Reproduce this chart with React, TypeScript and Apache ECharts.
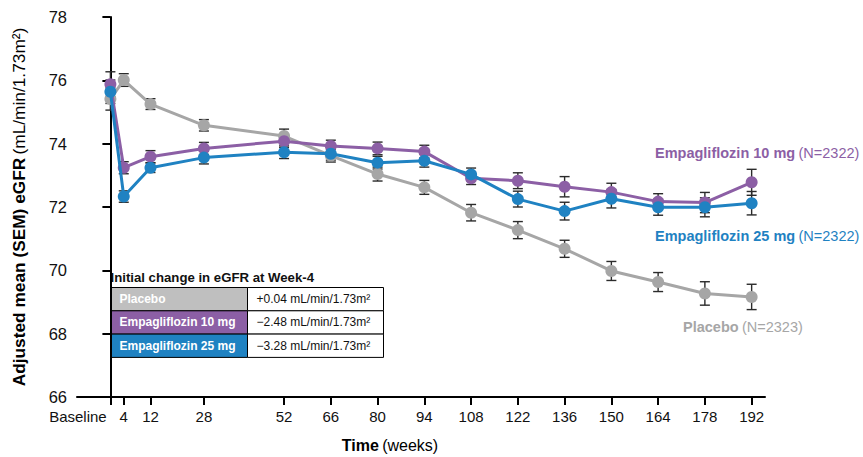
import React, { useEffect, useRef } from "react";
import * as echarts from "echarts";

const weeks = [0, 4, 12, 28, 52, 66, 80, 94, 108, 122, 136, 150, 164, 178, 192];
const tickLabels = ["Baseline", "4", "12", "28", "52", "66", "80", "94", "108", "122", "136", "150", "164", "178", "192"];

const placeboMean = [75.41, 76.01, 75.25, 74.58, 74.24, 73.62, 73.04, 72.62, 71.82, 71.27, 70.68, 69.98, 69.63, 69.27, 69.16];
const placeboSem = [0.35, 0.2, 0.17, 0.18, 0.22, 0.2, 0.22, 0.22, 0.26, 0.27, 0.27, 0.3, 0.3, 0.37, 0.4];
const emp10Mean = [75.88, 73.24, 73.59, 73.85, 74.08, 73.93, 73.85, 73.75, 72.91, 72.83, 72.64, 72.47, 72.17, 72.14, 72.78];
const emp10Sem = [0.39, 0.19, 0.19, 0.19, 0.2, 0.18, 0.2, 0.2, 0.2, 0.25, 0.32, 0.28, 0.25, 0.32, 0.41];
const emp25Mean = [75.64, 72.33, 73.24, 73.56, 73.73, 73.68, 73.4, 73.46, 73.03, 72.25, 71.87, 72.26, 71.99, 71.99, 72.12];
const emp25Sem = [0.37, 0.18, 0.15, 0.2, 0.2, 0.2, 0.2, 0.2, 0.2, 0.25, 0.28, 0.29, 0.25, 0.3, 0.37];

const seriesNames = ["Placebo", "Empagliflozin 10 mg", "Empagliflozin 25 mg"];
const seriesN = ["(N=2323)", "(N=2322)", "(N=2322)"];
const tableTitle = "Initial change in eGFR at Week-4";
const tableValues = ["+0.04 mL/min/1.73m²", "\u22122.48 mL/min/1.73m²", "\u22123.28 mL/min/1.73m²"];

const COLORS = ["#a6a6a6", "#8c5fa5", "#1f82c2"];
const TABLE_COLORS = ["#bfbfbf", "#8c5fa5", "#1f82c2"];
const FONT = "Liberation Sans, Arial, sans-serif";

export default function App() {
  const ref = useRef<HTMLDivElement>(null);

  useEffect(() => {
    if (!ref.current) return;
    const chart = echarts.init(ref.current, undefined, { renderer: "svg" });

    const means = [placeboMean, emp10Mean, emp25Mean];
    const sems = [placeboSem, emp10Sem, emp25Sem];

    const errorSeries = means.map((m, i) => ({
      type: "custom",
      name: seriesNames[i] + " SEM",
      z: 1,
      silent: true,
      encode: { x: 0, y: 1 },
      data: weeks.map((w, j) => [w, m[j], sems[i][j]]),
      renderItem: (params: any, api: any) => {
        const x = api.value(0);
        const y = api.value(1);
        const s = api.value(2);
        const top = api.coord([x, y + s]);
        const bot = api.coord([x, y - s]);
        const hw = 5;
        const st = { stroke: "#2b2b2b", lineWidth: 1.4 };
        return {
          type: "group",
          children: [
            { type: "line", shape: { x1: top[0], y1: top[1], x2: bot[0], y2: bot[1] }, style: st },
            { type: "line", shape: { x1: top[0] - hw, y1: top[1], x2: top[0] + hw, y2: top[1] }, style: st },
            { type: "line", shape: { x1: bot[0] - hw, y1: bot[1], x2: bot[0] + hw, y2: bot[1] }, style: st },
          ],
        };
      },
    }));

    const lineSeries = means.map((m, i) => ({
      type: "line",
      name: seriesNames[i],
      z: 2 + i,
      data: weeks.map((w, j) => [w, m[j]]),
      symbol: "circle",
      symbolSize: 12,
      lineStyle: { color: COLORS[i], width: 3 },
      itemStyle: { color: COLORS[i] },
    }));

    // Table graphics
    const tx = 110.5;
    const tDiv = 247.5;
    const tRight = 383.5;
    const rowTop = 287.5;
    const rowH = 23.3;
    const tableEls: any[] = [];
    tableEls.push({
      type: "text",
      x: tx,
      y: 277,
      style: { text: tableTitle, font: `bold 13.2px ${FONT}`, fill: "#111", verticalAlign: "middle" },
    });
    seriesNames.forEach((name, i) => {
      const y0 = rowTop + i * rowH;
      tableEls.push({
        type: "rect",
        shape: { x: tx, y: y0, width: tDiv - tx, height: rowH },
        style: { fill: TABLE_COLORS[i], stroke: "#000", lineWidth: 1 },
      });
      tableEls.push({
        type: "rect",
        shape: { x: tDiv, y: y0, width: tRight - tDiv, height: rowH },
        style: { fill: "#fff", stroke: "#000", lineWidth: 1 },
      });
      tableEls.push({
        type: "text",
        x: tx + 9,
        y: y0 + rowH / 2,
        style: { text: name, font: `bold 12px ${FONT}`, fill: "#fff", verticalAlign: "middle" },
      });
      tableEls.push({
        type: "text",
        x: tDiv + 9,
        y: y0 + rowH / 2,
        style: { text: tableValues[i], font: `12px ${FONT}`, fill: "#111", verticalAlign: "middle" },
      });
    });

    const labelPos = [
      { x: 683, y: 327 },
      { x: 655, y: 153 },
      { x: 655, y: 236 },
    ];
    const seriesLabels = seriesNames.map((name, i) => ({
      type: "text",
      x: labelPos[i].x,
      y: labelPos[i].y,
      style: {
        text: `{b|${name}} {n|${seriesN[i]}}`,
        verticalAlign: "middle",
        rich: {
          b: { font: `bold 14.5px ${FONT}`, fill: COLORS[i] },
          n: { font: `14.5px ${FONT}`, fill: COLORS[i] },
        },
      },
    }));

    const option: any = {
      animation: false,
      grid: { left: 77, right: 98, top: 17, bottom: 60, containLabel: false },
      xAxis: {
        type: "value",
        min: -10,
        max: 196,
        splitLine: { show: false },
        axisLine: { show: true, onZero: false, lineStyle: { color: "#000", width: 2 } },
        axisTick: { show: true, customValues: weeks, length: 8, lineStyle: { color: "#000", width: 2 } },
        axisLabel: {
          customValues: weeks,
          margin: 12,
          color: "#111",
          fontFamily: FONT,
          fontSize: 15,
          formatter: (v: number) => {
            const idx = weeks.indexOf(v);
            const t = idx >= 0 ? tickLabels[idx] : "";
            return idx === 0 ? `{base|${t}}` : t;
          },
          rich: {
            base: { fontFamily: FONT, fontSize: 15, color: "#111", padding: [0, 65, 0, 0] },
          },
        },
      },
      yAxis: {
        type: "value",
        min: 66,
        max: 78,
        interval: 2,
        splitLine: { show: false },
        axisLine: { show: true, lineStyle: { color: "#000", width: 2 } },
        axisTick: { show: true, length: 8, lineStyle: { color: "#000", width: 2 } },
        axisLabel: { margin: 10, color: "#111", fontFamily: FONT, fontSize: 16.5 },
        name: "{b|Adjusted mean (SEM) eGFR} {n|(mL/min/1.73m²)}",
        nameLocation: "middle",
        nameGap: 50,
        nameTextStyle: {
          rich: {
            b: { fontFamily: FONT, fontSize: 17.3, fontWeight: "bold", color: "#000" },
            n: { fontFamily: FONT, fontSize: 17.3, color: "#000" },
          },
        },
      },
      graphic: [
        ...tableEls,
        ...seriesLabels,
        {
          type: "text",
          x: 390,
          y: 445,
          style: {
            text: "{b|Time} {n|(weeks)}",
            align: "center",
            verticalAlign: "middle",
            rich: {
              b: { font: `bold 16px ${FONT}`, fill: "#000" },
              n: { font: `16px ${FONT}`, fill: "#000" },
            },
          },
        },
      ],
      series: [...errorSeries, ...lineSeries],
    };

    chart.setOption(option);
    return () => chart.dispose();
  }, []);

  return <div ref={ref} style={{ width: 863, height: 457, position: "absolute", left: 0, top: 0 }} />;
}
